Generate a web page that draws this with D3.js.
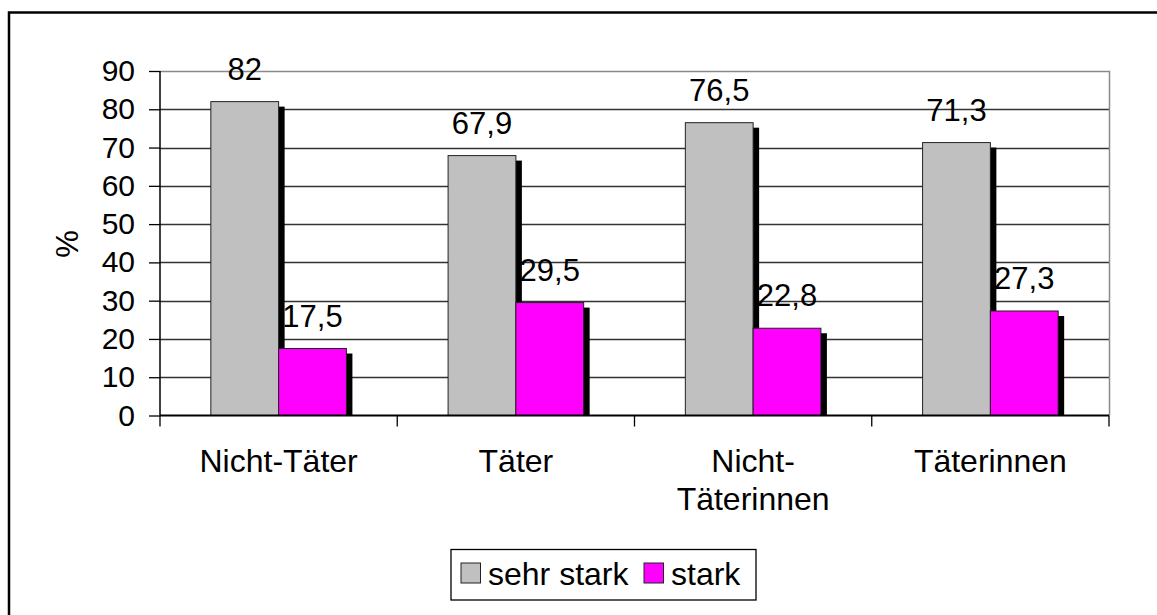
<!DOCTYPE html>
<html>
<head>
<meta charset="utf-8">
<script src="https://cdn.jsdelivr.net/npm/d3@7"></script>
<style>
  html, body { margin: 0; padding: 0; background: #fff; }
  svg { display: block; font-family: "Liberation Sans", Arial, sans-serif; }
</style>
</head>
<body>
<svg id="chart" width="1157" height="615"></svg>
<script>
// Categories and series values (percent)
const categories = ["Nicht-Täter", "Täter", "Nicht-Täterinnen", "Täterinnen"];
const categoryLines = [["Nicht-Täter"], ["Täter"], ["Nicht-", "Täterinnen"], ["Täterinnen"]];
const seriesNames = ["sehr stark", "stark"];
const sehrStark = [82, 67.9, 76.5, 71.3];
const stark = [17.5, 29.5, 22.8, 27.3];
const yTicks = [0, 10, 20, 30, 40, 50, 60, 70, 80, 90];
const colors = ["#c0c0c0", "#ff00ff"];

const svg = d3.select("#chart");

// Outer frame
svg.append("rect")
  .attr("x", 9).attr("y", 12.5)
  .attr("width", 1160).attr("height", 620)
  .attr("fill", "none").attr("stroke", "#000").attr("stroke-width", 2.5);

const plot = { left: 160, right: 1109, top: 71, bottom: 415.5 };

const x0 = d3.scaleBand().domain(categories).range([plot.left, plot.right]).paddingInner(0).paddingOuter(0);
const x1 = d3.scaleBand().domain(seriesNames).range([0, x0.bandwidth()]).paddingInner(0).paddingOuter(0.75);
const y = d3.scaleLinear().domain([0, 90]).range([plot.bottom, plot.top]);

// Gridlines
svg.append("g").selectAll("line").data(yTicks.filter(d => d > 0 && d < 90)).join("line")
  .attr("x1", plot.left).attr("x2", plot.right)
  .attr("y1", d => Math.round(y(d)) + 0.5).attr("y2", d => Math.round(y(d)) + 0.5)
  .attr("stroke", "#333").attr("stroke-width", 1.3);

// Plot border (top and right)
svg.append("path")
  .attr("d", `M${plot.left},${plot.top + 0.5}H${plot.right + 0.5}V${plot.bottom}`)
  .attr("fill", "none").attr("stroke", "#8a8a8a").attr("stroke-width", 1.5);

// Bars with drop shadow
const data = [];
categories.forEach((c, i) => {
  data.push({ cat: c, series: seriesNames[0], value: sehrStark[i], color: colors[0] });
  data.push({ cat: c, series: seriesNames[1], value: stark[i], color: colors[1] });
});

const bars = svg.append("g");
bars.selectAll("rect.shadow").data(data).join("rect")
  .attr("class", "shadow")
  .attr("x", d => x0(d.cat) + x1(d.series) + 6)
  .attr("y", d => y(d.value) + 5)
  .attr("width", x1.bandwidth())
  .attr("height", d => plot.bottom - y(d.value) - 5)
  .attr("fill", "#000");

bars.selectAll("rect.bar").data(data).join("rect")
  .attr("class", "bar")
  .attr("x", d => x0(d.cat) + x1(d.series))
  .attr("y", d => y(d.value))
  .attr("width", x1.bandwidth())
  .attr("height", d => plot.bottom - y(d.value))
  .attr("fill", d => d.color)
  .attr("stroke", "#222").attr("stroke-width", 1);

// Value labels
svg.append("g").selectAll("text").data(data).join("text")
  .attr("x", d => x0(d.cat) + x1(d.series) + x1.bandwidth() / 2)
  .attr("y", d => y(d.value) - 22)
  .attr("text-anchor", "middle")
  .attr("font-size", 31)
  .text(d => String(d.value).replace(".", ","));

// Y axis
const yAxis = d3.axisLeft(y).tickValues(yTicks).tickSize(11).tickPadding(14);
const gy = svg.append("g").attr("transform", `translate(${plot.left},0)`).call(yAxis);
gy.select(".domain").attr("stroke", "#000").attr("stroke-width", 1.5).attr("d", `M-0,${plot.top}V${plot.bottom}`);
gy.selectAll(".tick line").attr("stroke", "#000").attr("stroke-width", 1.3);
gy.selectAll(".tick text").attr("font-size", 30).attr("fill", "#000").attr("font-family", "Liberation Sans, Arial, sans-serif");

// X axis baseline and category ticks
const xTickPos = categories.map(c => x0(c)).concat([plot.right]);
svg.append("line")
  .attr("x1", plot.left).attr("x2", plot.right)
  .attr("y1", plot.bottom).attr("y2", plot.bottom)
  .attr("stroke", "#000").attr("stroke-width", 1.8);
svg.append("g").selectAll("line").data(xTickPos).join("line")
  .attr("x1", d => d).attr("x2", d => d)
  .attr("y1", plot.bottom).attr("y2", plot.bottom + 11)
  .attr("stroke", "#000").attr("stroke-width", 1.3);

// Category labels
const catG = svg.append("g").selectAll("text").data(categories).join("text")
  .attr("x", c => x0(c) + x0.bandwidth() / 2)
  .attr("y", 472)
  .attr("text-anchor", "middle")
  .attr("font-size", 32);
catG.each(function(c, i) {
  d3.select(this).selectAll("tspan").data(categoryLines[i]).join("tspan")
    .attr("x", x0(c) + x0.bandwidth() / 2)
    .attr("dy", (d, j) => j === 0 ? 0 : 38)
    .text(d => d);
});

// Y axis title
svg.append("text")
  .attr("transform", `translate(78,244) rotate(-90)`)
  .attr("text-anchor", "middle")
  .attr("font-size", 31)
  .text("%");

// Legend
const legend = svg.append("g");
legend.append("rect")
  .attr("x", 451).attr("y", 549.5).attr("width", 305).attr("height", 50.5)
  .attr("fill", "#fff").attr("stroke", "#000").attr("stroke-width", 1.3);
const legendItems = [
  { name: seriesNames[0], color: colors[0], sx: 461, tx: 488 },
  { name: seriesNames[1], color: colors[1], sx: 644, tx: 671 }
];
legend.selectAll("rect.sw").data(legendItems).join("rect")
  .attr("class", "sw")
  .attr("x", d => d.sx).attr("y", 563)
  .attr("width", 19.5).attr("height", 20)
  .attr("fill", d => d.color).attr("stroke", "#222").attr("stroke-width", 1);
legend.selectAll("text").data(legendItems).join("text")
  .attr("x", d => d.tx).attr("y", 585)
  .attr("font-size", 32)
  .text(d => d.name);
</script>
</body>
</html>
